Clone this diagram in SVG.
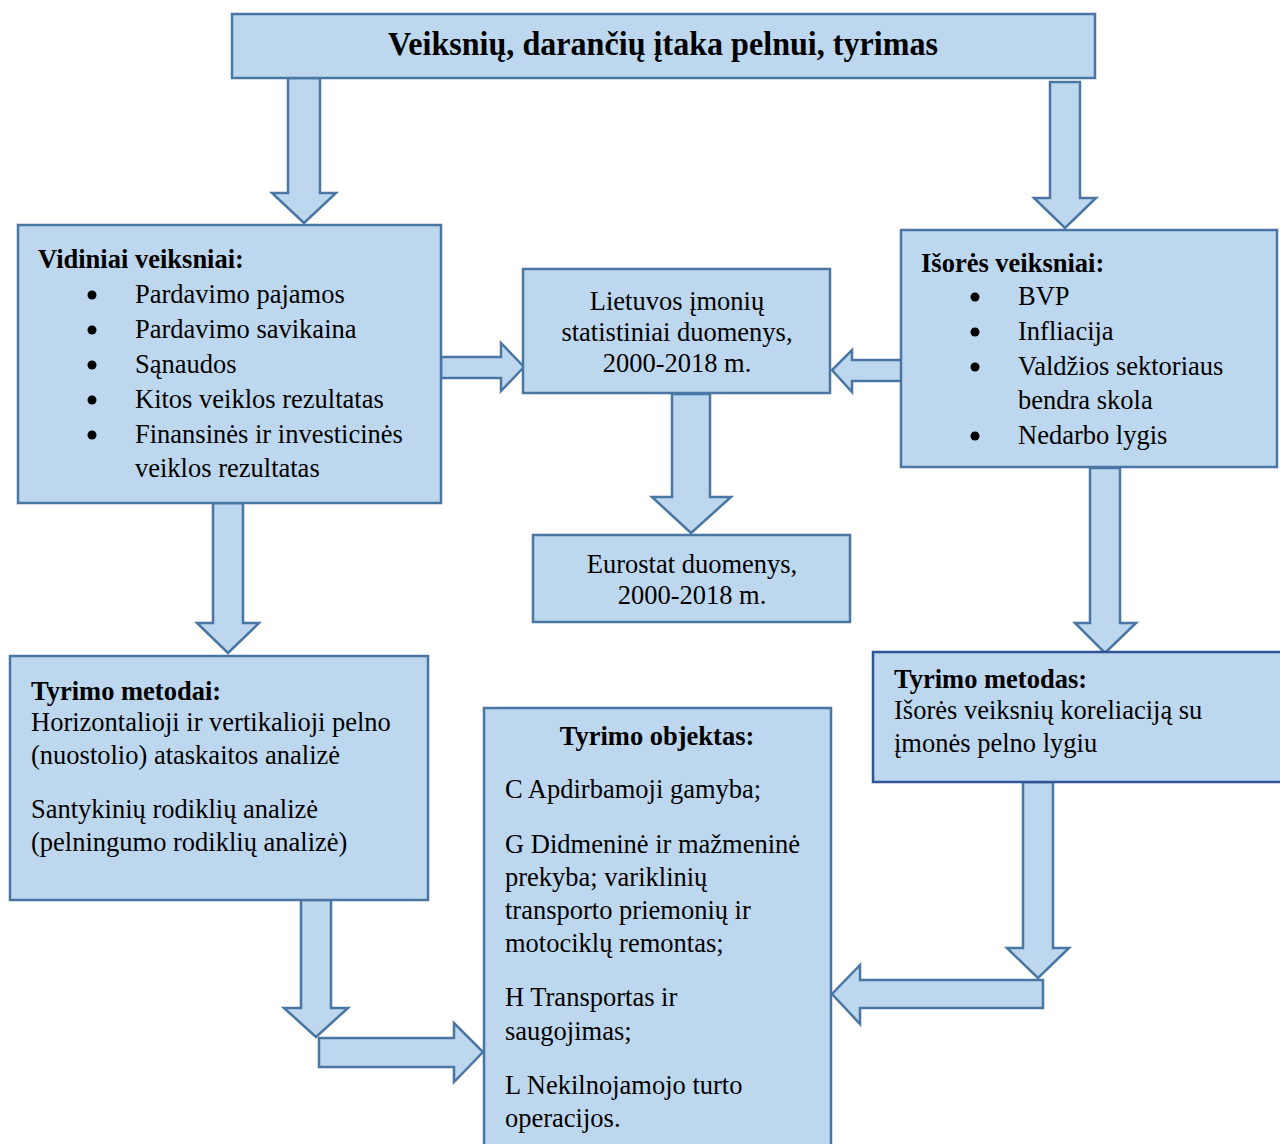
<svg xmlns="http://www.w3.org/2000/svg" width="1280" height="1144" viewBox="0 0 1280 1144">
<style>
.box{fill:#bdd7ee;stroke:#4a76a3;stroke-width:2.5}
.box2{fill:#bdd7ee;stroke:#2f5597;stroke-width:2.5}
.arr{fill:#bdd7ee;stroke:#4a76a3;stroke-width:2.5;stroke-linejoin:miter}
text{font-family:"Liberation Serif","Times New Roman",serif;font-size:26.5px;fill:#000}
.b{font-weight:bold}
.c{text-anchor:middle}
.bl{fill:#000}
</style>
<rect width="1280" height="1144" fill="#fff"/>
<g id="connectors">
<path class="arr" d="M288,78 L320,78 L320,193 L336,193 L304,223 L272,193 L288,193 Z"/>
<path class="arr" d="M1050,82 L1080,82 L1080,198 L1096,198 L1065,228 L1034,198 L1050,198 Z"/>
<path class="arr" d="M441,357 L501,357 L501,343 L524,367 L501,391 L501,378 L441,378 Z"/>
<path class="arr" d="M902,360 L852,360 L852,350 L832,370 L852,392 L852,381 L902,381 Z"/>
<path class="arr" d="M672,394 L710,394 L710,497 L731,497 L691,533 L652,497 L672,497 Z"/>
<path class="arr" d="M213,503 L243,503 L243,623 L259,623 L228,653 L197,623 L213,623 Z"/>
<path class="arr" d="M1090,468 L1120,468 L1120,623 L1136,623 L1105,653 L1075,623 L1090,623 Z"/>
<path class="arr" d="M301,900 L331,900 L331,1008 L348,1008 L316,1037 L284,1008 L301,1008 Z"/>
<path class="arr" d="M319,1038 L454,1038 L454,1023 L483,1052 L454,1082 L454,1067 L319,1067 Z"/>
<path class="arr" d="M1023,782 L1053,782 L1053,948 L1069,948 L1038,978 L1007,948 L1023,948 Z"/>
<path class="arr" d="M1043,980 L860,980 L860,965 L832,994 L860,1024 L860,1008 L1043,1008 Z"/>
</g>
<g id="title">
<rect class="box" x="232" y="14" width="863" height="64"/>
<text class="b c" x="663" y="55" style="font-size:33px" textLength="550" lengthAdjust="spacingAndGlyphs">Veiksnių, darančių įtaka pelnui, tyrimas</text>
</g>
<g id="vidiniai">
<rect class="box" x="18" y="225" width="423" height="278"/>
<text class="b" x="38" y="268">Vidiniai veiksniai:</text>
<circle class="bl" cx="92" cy="295" r="4.5"/><text x="135" y="303">Pardavimo pajamos</text>
<circle class="bl" cx="92" cy="330" r="4.5"/><text x="135" y="338">Pardavimo savikaina</text>
<circle class="bl" cx="92" cy="365" r="4.5"/><text x="135" y="373">Sąnaudos</text>
<circle class="bl" cx="92" cy="400" r="4.5"/><text x="135" y="408">Kitos veiklos rezultatas</text>
<circle class="bl" cx="92" cy="435" r="4.5"/><text x="135" y="443">Finansinės ir investicinės</text>
<text x="135" y="477">veiklos rezultatas</text>
</g>
<g id="lietuvos">
<rect class="box" x="523" y="269" width="307" height="124"/>
<text class="c" x="677" y="310">Lietuvos įmonių</text>
<text class="c" x="677" y="341">statistiniai duomenys,</text>
<text class="c" x="677" y="372">2000-2018 m.</text>
</g>
<g id="eurostat">
<rect class="box" x="533" y="535" width="317" height="87"/>
<text class="c" x="692" y="573">Eurostat duomenys,</text>
<text class="c" x="692" y="604">2000-2018 m.</text>
</g>
<g id="isores">
<rect class="box" x="901" y="230" width="376" height="237"/>
<text class="b" x="921" y="272">Išorės veiksniai:</text>
<circle class="bl" cx="975" cy="297" r="4.5"/><text x="1018" y="305">BVP</text>
<circle class="bl" cx="975" cy="332" r="4.5"/><text x="1018" y="340">Infliacija</text>
<circle class="bl" cx="975" cy="367" r="4.5"/><text x="1018" y="375">Valdžios sektoriaus</text>
<text x="1018" y="409">bendra skola</text>
<circle class="bl" cx="975" cy="436" r="4.5"/><text x="1018" y="444">Nedarbo lygis</text>
</g>
<g id="metodai">
<rect class="box" x="10" y="656" width="418" height="244"/>
<text class="b" x="31" y="700">Tyrimo metodai:</text>
<text x="31" y="731">Horizontalioji ir vertikalioji pelno</text>
<text x="31" y="764">(nuostolio) ataskaitos analizė</text>
<text x="31" y="818">Santykinių rodiklių analizė</text>
<text x="31" y="851">(pelningumo rodiklių analizė)</text>
</g>
<g id="metodas">
<rect class="box2" x="873" y="652" width="410" height="130"/>
<text class="b" x="894" y="688">Tyrimo metodas:</text>
<text x="894" y="719">Išorės veiksnių koreliaciją su</text>
<text x="894" y="752">įmonės pelno lygiu</text>
</g>
<g id="objektas">
<rect class="box" x="484" y="708" width="347" height="440"/>
<text class="b c" x="657" y="745">Tyrimo objektas:</text>
<text x="505" y="798">C Apdirbamoji gamyba;</text>
<text x="505" y="853">G Didmeninė ir mažmeninė</text>
<text x="505" y="886">prekyba; variklinių</text>
<text x="505" y="919">transporto priemonių ir</text>
<text x="505" y="952">motociklų remontas;</text>
<text x="505" y="1006">H Transportas ir</text>
<text x="505" y="1040">saugojimas;</text>
<text x="505" y="1094">L Nekilnojamojo turto</text>
<text x="505" y="1127">operacijos.</text>
</g>
</svg>
